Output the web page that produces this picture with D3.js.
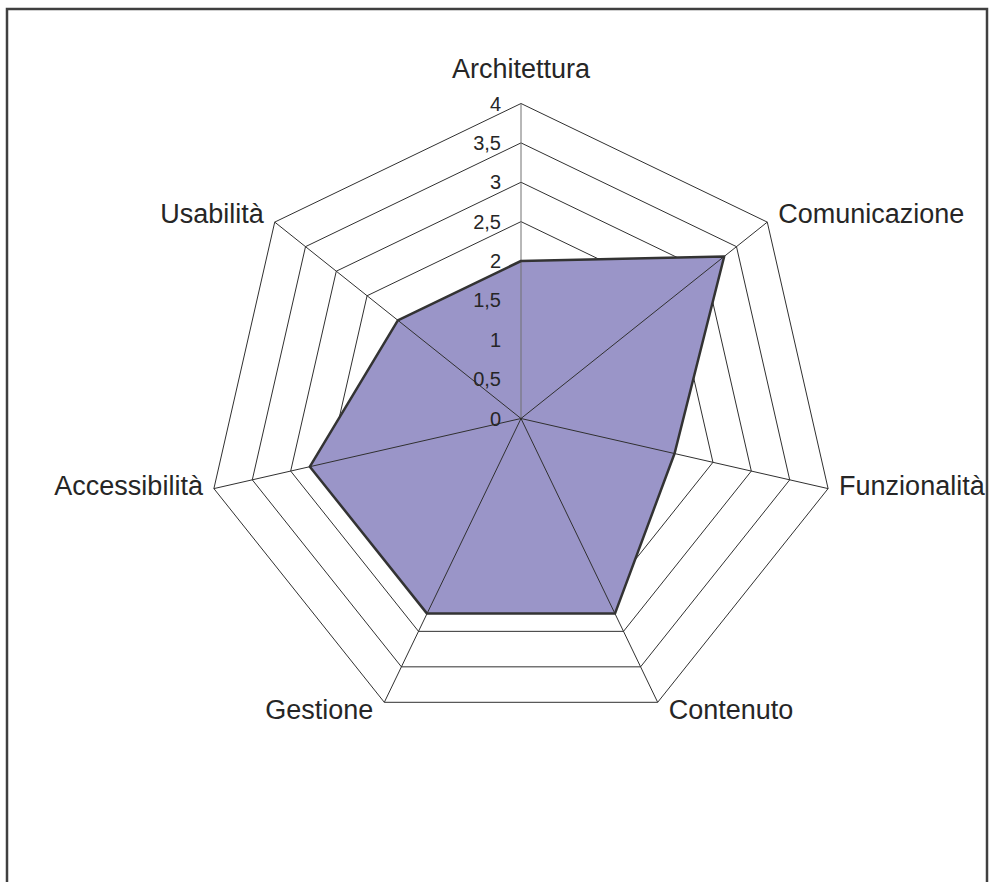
<!DOCTYPE html>
<html lang="it">
  <head>
    <meta charset="utf-8" />
    <title>Radar</title>
    <script src="https://d3js.org/d3.v7.js"></script>
    <style>
      body { margin: 0; background: #fff; }
      text { font-family: "Liberation Sans", Arial, sans-serif; fill: #262626; }
    </style>
  </head>
  <body>
    <script>

    // data
    var categories = ["Architettura", "Comunicazione", "Funzionalità", "Contenuto", "Gestione", "Accessibilità", "Usabilità"];
    var values = [2, 3.3, 2, 2.75, 2.75, 2.75, 2];
    var tickValues = [0, 0.5, 1, 1.5, 2, 2.5, 3, 3.5, 4];
    var tickLabels = ["0", "0,5", "1", "1,5", "2", "2,5", "3", "3,5", "4"];

    var w = 995, h = 882;
    var cx = 521, cy = 418.5;

    var r = d3.scaleLinear().domain([0, 4]).range([0, 315]);
    var angle = d3.scaleLinear().domain([0, categories.length]).range([0, 2 * Math.PI]);

    var svg = d3.select("body")
      .append("svg")
        .attr("width", w)
        .attr("height", h);

    // outer frame of the chart area
    svg.append("rect")
      .attr("x", 7)
      .attr("y", 9)
      .attr("width", 980)
      .attr("height", 900)
      .attr("fill", "none")
      .attr("stroke", "#404040")
      .attr("stroke-width", 2.5);

    var g = svg.append("g")
      .attr("transform", `translate(${cx},${cy})`);

    var radial = d3.lineRadial()
      .curve(d3.curveLinearClosed);

    // grid rings
    g.selectAll(".ring")
      .data(tickValues.filter(d => d > 0))
      .join("path")
        .attr("class", "ring")
        .attr("d", t => radial(categories.map((c, i) => [angle(i), r(t)])))
        .attr("fill", "none")
        .attr("stroke", "#303030")
        .attr("stroke-width", 1);

    // series area
    g.append("path")
      .attr("d", radial(values.map((v, i) => [angle(i), r(v)])))
      .attr("fill", "#9a95c8")
      .attr("stroke", "none");

    // spokes
    g.selectAll(".spoke")
      .data(categories)
      .join("line")
        .attr("class", "spoke")
        .attr("x1", 0)
        .attr("y1", 0)
        .attr("x2", (d, i) => r(4) * Math.sin(angle(i)))
        .attr("y2", (d, i) => -r(4) * Math.cos(angle(i)))
        .attr("stroke", (d, i) => i === 0 ? "#707070" : "#303030")
        .attr("stroke-width", 1);

    // series outline
    g.append("path")
      .attr("d", radial(values.map((v, i) => [angle(i), r(v)])))
      .attr("fill", "none")
      .attr("stroke", "#333")
      .attr("stroke-width", 2.5)
      .attr("stroke-linejoin", "round");

    // value axis labels
    g.selectAll(".tick")
      .data(tickValues)
      .join("text")
        .attr("class", "tick")
        .attr("x", -20)
        .attr("y", d => -r(d))
        .attr("dy", "0.35em")
        .attr("text-anchor", "end")
        .style("font-size", "20px")
        .text((d, i) => tickLabels[i]);

    // category labels
    g.selectAll(".cat")
      .data(categories)
      .join("text")
        .attr("class", "cat")
        .attr("x", (d, i) => {
          var sx = Math.sin(angle(i));
          var px = r(4) * sx;
          if (Math.abs(sx) < 0.01) return px;
          return px + (sx > 0 ? 11 : -11);
        })
        .attr("y", (d, i) => {
          var dy = -Math.cos(angle(i));
          var py = r(4) * dy;
          if (Math.abs(Math.sin(angle(i))) < 0.01) return py - 26;
          return py + 6 + 13 * dy * Math.abs(dy);
        })
        .attr("text-anchor", (d, i) => {
          var sx = Math.sin(angle(i));
          if (Math.abs(sx) < 0.01) return "middle";
          return sx > 0 ? "start" : "end";
        })
        .style("font-size", "27px")
        .text(d => d);

    </script>
  </body>
</html>
